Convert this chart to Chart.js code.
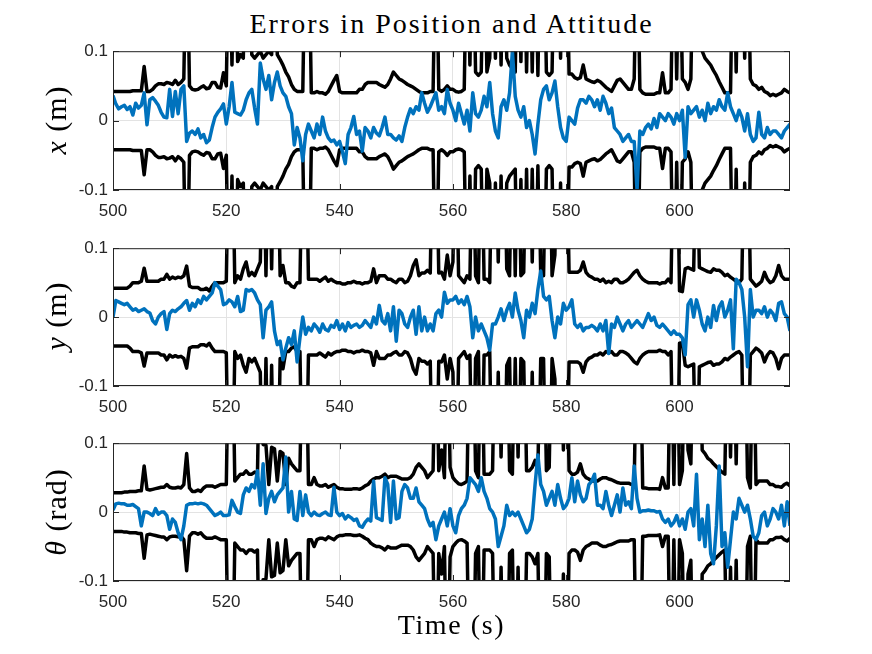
<!DOCTYPE html>
<html>
<head>
<meta charset="utf-8">
<title>Errors in Position and Attitude</title>
<script src="https://cdn.jsdelivr.net/npm/chart.js@4.4.1/dist/chart.umd.min.js"></script>
<style>
  html, body { margin: 0; padding: 0; background: #fff; }
  #fig { position: relative; width: 872px; height: 654px; overflow: hidden; background: #fff; }
  #fig canvas { position: absolute; left: 0; }
  .title, .xlabel {
    position: absolute; left: 113px; width: 677px; text-align: center;
    font-family: "Liberation Serif", serif; color: #000; white-space: nowrap; line-height: 1;
  }
  .title { top: 10px; font-size: 28px; letter-spacing: 2px; }
  .xlabel { top: 611px; font-size: 28px; letter-spacing: 1.6px; }
  .ylabel {
    position: absolute; left: -44px; width: 200px; height: 40px; line-height: 40px; text-align: center;
    font-family: "Liberation Serif", serif; font-size: 30px; letter-spacing: 1px; color: #000;
    white-space: nowrap; transform: rotate(-90deg);
  }
</style>
</head>
<body>
<div id="fig">
  <div class="title">Errors in Position and Attitude</div>
  <canvas id="px" width="802" height="189" style="top:36px"></canvas>
  <canvas id="py" width="802" height="188" style="top:233px"></canvas>
  <canvas id="pt" width="802" height="188" style="top:428px"></canvas>
  <div class="ylabel" style="top:100px"><i>x</i> (m)</div>
  <div class="ylabel" style="top:296px"><i>y</i> (m)</div>
  <div class="ylabel" style="top:492px"><i>θ</i> (rad)</div>
  <div class="xlabel">Time (s)</div>
</div>
<script>
// samples every 0.5 s, 500 .. 619.5 s
const T_START = 500;
const T_STEP = 0.5;

// 3-sigma bound and estimation error, x (m)
const sigmaX = [
  .042,.042,.042,.042,.042,.042,.042,.043,.043,.043,
  .043,.078,.042,.042,.045,.050,.053,.053,.052,.055,
  .054,.052,.058,.052,.055,.060,.3,.050,.045,.044,
  .045,.048,.050,.046,.047,.055,.055,.048,.047,.069,
  .050,.3,.080,.3,.085,.095,.090,.3,.3,.095,
  .090,.095,.100,.090,.095,.100,.095,.3,.095,.088,
  .080,.070,.063,.052,.045,.042,.042,.042,.3,.3,
  .040,.040,.042,.040,.040,.038,.042,.050,.058,.065,
  .042,.040,.040,.040,.040,.040,.040,.045,.045,.052,
  .055,.055,.055,.055,.052,.050,.048,.052,.060,.070,
  .065,.060,.058,.055,.052,.050,.048,.045,.042,.040,
  .040,.040,.042,.042,.3,.045,.042,.045,.050,.045,
  .045,.042,.041,.042,.045,.3,.080,.3,.070,.065,
  .070,.3,.070,.090,.3,.090,.3,.080,.3,.090,
  .080,.075,.070,.3,.085,.3,.070,.3,.070,.3,
  .065,.3,.3,.070,.065,.070,.3,.3,.090,.3,
  .3,.067,.067,.062,.060,.062,.080,.060,.058,.056,
  .055,.058,.056,.052,.048,.045,.042,.050,.058,.060,
  .055,.050,.045,.045,.060,.3,.045,.040,.038,.038,
  .038,.038,.040,.040,.069,.040,.040,.045,.3,.060,
  .3,.060,.055,.045,.060,.3,.3,.3,.100,.090,
  .085,.080,.072,.065,.056,.048,.040,.040,.040,.3,
  .070,.3,.3,.090,.3,.060,.052,.050,.045,.048,
  .042,.040,.036,.038,.036,.038,.040,.045,.042,.040
];
const errX = [
  .036,.024,.017,.020,.022,.016,.020,.008,.025,.018,
  .022,.040,-.006,.030,.033,.028,.022,.012,.005,.004,
  .045,.006,.042,.010,.045,.050,-.030,-.018,-.015,-.020,
  -.012,-.025,-.020,-.032,-.028,-.010,.005,.012,.017,.024,
  -.005,.020,.055,.012,.010,.008,.015,.030,.040,.045,
  .018,-.005,.083,.060,.045,.065,.030,.055,.070,.050,
  .040,.035,.020,.010,-.035,-.010,-.025,-.058,-.020,-.005,
  -.015,-.025,-.005,-.020,.005,-.015,-.025,-.030,-.028,-.035,
  -.030,-.045,-.062,-.020,-.010,.006,-.020,-.015,-.044,-.010,
  -.015,-.025,-.010,-.018,-.022,-.010,.005,-.020,-.020,-.025,
  -.028,-.022,-.030,-.010,.005,.017,.010,.020,.015,.040,
  .025,.012,.020,.030,.040,.015,.020,.010,.045,.025,
  .015,.000,.025,.010,-.005,.015,-.015,.040,.010,.005,
  .015,.035,.020,.055,.010,-.015,-.025,.020,.030,.015,
  .040,.100,.035,.015,.005,.020,-.010,.000,-.020,-.048,
  -.005,.030,.045,.050,.030,.040,.057,.020,-.010,-.025,
  -.030,.005,.000,-.005,.018,.030,.030,.025,.035,.030,
  .020,.030,.015,.035,.025,.010,.018,-.010,-.015,-.020,
  -.030,-.025,-.020,-.030,-.030,-.100,-.015,-.020,-.010,-.005,
  -.012,.003,-.010,.010,.005,.000,.010,.005,-.005,.010,
  .000,.015,-.053,.020,.010,.015,.020,.005,.015,.000,
  .025,.010,.020,.015,.030,.020,.015,.040,.020,.010,
  .000,.015,.005,-.015,.010,-.020,-.030,-.025,.012,-.020,
  -.025,-.010,-.020,-.015,-.015,-.020,-.025,-.015,-.010,-.005
];

// 3-sigma bound and estimation error, y (m)
const sigmaY = [
  .042,.042,.042,.042,.042,.042,.045,.050,.050,.050,
  .052,.071,.052,.052,.052,.052,.052,.055,.055,.062,
  .055,.058,.056,.058,.057,.060,.074,.045,.043,.043,
  .043,.040,.040,.042,.038,.045,.050,.050,.050,.050,
  .052,.3,.3,.050,.060,.055,.070,.080,.060,.065,
  .060,.070,.080,.3,.060,.3,.070,.3,.3,.060,
  .075,.050,.050,.045,.043,.050,.050,.3,.3,.055,
  .055,.055,.055,.052,.055,.058,.052,.055,.052,.050,
  .050,.048,.048,.050,.050,.052,.050,.050,.048,.050,
  .050,.052,.070,.050,.060,.060,.060,.055,.055,.052,
  .050,.055,.055,.050,.052,.060,.075,.083,.060,.064,
  .064,.068,.064,.3,.3,.064,.065,.055,.090,.060,
  .080,.3,.060,.055,.050,.060,.055,.3,.060,.050,
  .3,.055,.055,.050,.3,.3,.080,.3,.3,.070,
  .060,.3,.060,.3,.060,.065,.3,.3,.080,.3,
  .3,.060,.060,.3,.3,.060,.090,.3,.3,.3,
  .3,.065,.065,.065,.065,.068,.080,.065,.060,.058,
  .055,.055,.052,.055,.050,.052,.050,.055,.055,.050,
  .050,.052,.055,.060,.065,.068,.060,.055,.052,.050,
  .050,.050,.050,.048,.050,.050,.055,.050,.3,.3,
  .038,.037,.070,.072,.070,.068,.3,.072,.070,.068,
  .066,.065,.070,.068,.068,.065,.060,.062,.058,.055,
  .052,.050,.055,.3,.3,.055,.050,.045,.048,.052,
  .065,.055,.050,.052,.060,.075,.060,.055,.055,.055
];
const errY = [
  .000,.024,.022,.020,.018,.020,.015,.010,.012,.008,
  .010,.012,.008,.006,-.005,-.010,.000,.005,.008,-.018,
  .005,.010,.008,.012,.015,.020,.024,.010,.020,.015,
  .025,.020,.030,.025,.030,.035,.050,.045,.040,.018,
  .020,.025,.022,.015,.030,.008,.010,.040,.038,.040,
  .035,.025,.018,-.030,.010,.015,.022,-.020,-.040,-.035,
  -.062,-.045,-.030,-.040,-.020,-.065,-.030,.000,-.025,-.015,
  -.020,-.010,-.015,-.022,-.010,-.018,-.020,-.012,-.015,-.005,
  -.018,-.010,-.020,-.008,-.015,-.012,-.010,-.015,-.012,-.005,
  -.010,-.015,.000,-.010,.017,-.005,-.010,.005,-.020,.015,
  -.035,.010,.005,-.010,-.015,.000,.010,-.025,.015,-.020,
  .000,-.020,-.010,-.020,.005,.010,.000,.036,.020,.025,
  .025,.030,.020,.025,.018,.030,.015,-.030,.000,-.020,
  -.010,-.020,-.030,-.048,-.010,-.010,.000,.012,-.005,.010,
  .020,.000,.035,.010,-.005,-.030,.010,.000,.020,.005,
  .040,.067,.030,.025,.030,-.005,-.030,.000,-.010,.020,
  .010,.015,.025,-.010,-.015,-.010,-.020,-.015,-.015,-.012,
  -.015,-.020,-.010,-.020,-.005,-.053,-.010,-.015,.000,-.010,
  -.020,-.010,-.005,-.015,-.010,-.005,-.010,-.015,-.005,.005,
  -.005,.000,-.012,-.015,-.010,-.015,-.020,-.025,-.020,-.025,
  -.025,-.030,-.055,.018,.025,.000,.025,.010,-.010,-.020,
  .000,-.015,.017,-.005,.015,.022,.000,.010,.025,-.046,
  .055,.050,.040,.000,-.072,.040,.000,.010,.010,.005,
  .015,.000,.010,.005,-.005,.020,.022,.005,.000,-.020
];

// 3-sigma bound and estimation error, theta (rad)
const sigmaT = [
  .028,.028,.028,.028,.029,.029,.030,.030,.030,.031,
  .031,.067,.033,.032,.033,.034,.035,.036,.036,.040,
  .036,.035,.035,.036,.035,.040,.085,.035,.030,.030,
  .032,.030,.035,.038,.038,.038,.036,.038,.040,.040,
  .040,.3,.3,.045,.050,.055,.055,.060,.055,.055,
  .058,.055,.3,.098,.097,.040,.094,.092,.045,.088,
  .085,.040,.078,.070,.065,.060,.060,.3,.3,.040,
  .040,.050,.040,.038,.038,.040,.036,.038,.040,.036,
  .034,.034,.033,.033,.033,.034,.034,.033,.035,.038,
  .040,.045,.048,.050,.050,.052,.055,.050,.052,.052,
  .052,.050,.048,.048,.048,.050,.055,.065,.070,.065,
  .060,.050,.055,.060,.3,.060,.090,.050,.3,.065,
  .050,.045,.041,.040,.042,.045,.3,.3,.060,.050,
  .3,.055,.055,.055,.060,.3,.3,.080,.3,.3,
  .060,.055,.3,.080,.3,.3,.060,.060,.065,.075,
  .060,.3,.3,.060,.065,.3,.3,.3,.3,.090,
  .3,.060,.055,.055,.058,.070,.055,.050,.048,.045,
  .045,.045,.048,.050,.050,.048,.047,.045,.043,.042,
  .042,.042,.042,.040,.040,.3,.3,.035,.035,.034,
  .034,.034,.034,.033,.050,.035,.035,.3,.040,.3,
  .040,.060,.3,.090,.070,.3,.3,.3,.090,.085,
  .078,.075,.070,.066,.062,.058,.055,.3,.080,.3,
  .070,.3,.3,.3,.050,.035,.3,.040,.045,.045,
  .045,.045,.040,.040,.037,.037,.036,.040,.042,.038
];
const errT = [
  .003,.012,.013,.012,.012,.010,.010,.011,.008,.005,
  -.020,.000,.000,-.002,-.005,.005,-.003,.000,.000,-.005,
  -.025,-.010,-.015,-.030,-.040,-.020,.010,.012,.012,.013,
  .012,.013,.012,.010,.005,.000,-.005,-.003,.000,-.005,
  -.005,-.004,.017,.008,.000,-.002,.025,.035,.030,.040,
  .035,.060,.010,.070,-.002,.020,.030,.015,.025,.030,
  .035,.080,.000,.030,-.010,-.012,.030,-.005,.025,.000,
  -.005,.000,-.004,-.005,-.002,.000,-.004,-.005,.036,.000,
  -.005,-.002,-.010,-.005,-.008,-.012,-.010,-.020,-.022,-.015,
  -.010,-.013,.045,-.008,-.010,-.012,.050,.040,-.015,.045,
  -.010,-.008,.030,.040,.035,.020,.020,.035,.015,.010,
  .005,-.010,-.020,-.015,-.040,-.020,-.010,.000,-.020,.005,
  -.020,-.030,-.005,.005,.010,.020,.050,.045,.040,.030,
  .050,.030,.020,.005,.000,-.010,-.050,-.035,-.020,.010,
  -.005,.000,-.005,.000,-.010,-.020,-.030,-.025,-.010,.040,
  .083,.040,.030,.010,.020,.030,.010,.040,.020,.005,
  .010,.020,.050,.015,.045,.025,.015,.020,.040,.045,
  .055,.010,.010,.005,.030,.010,-.005,.010,.025,.000,
  .035,.010,.015,.005,.067,.020,.000,.002,.002,.003,
  .002,.002,.000,.001,-.010,-.015,-.010,-.020,-.015,-.005,
  -.020,-.010,-.025,.000,.005,-.020,.055,-.040,-.010,-.050,
  .010,-.060,-.075,-.020,.067,-.050,-.030,-.080,-.040,.000,
  -.010,.020,.010,.000,.010,-.010,-.035,-.040,-.030,-.005,
  .000,-.020,-.010,.005,.000,-.010,.010,-.020,.015,-.020
];

const xTicks = [500, 520, 540, 560, 580, 600];
const yTicks = [-0.1, 0, 0.1];

const time = sigmaX.map((_, i) => T_START + i * T_STEP);

const BLUE = '#0072BD';
const AXIS = '#262626';
const GRID = '#e3e3e3';
const TICK_FONT = { family: '"Liberation Sans", Arial, sans-serif', size: 17 };

// MATLAB-like box with inward tick marks
const axesBox = {
  id: 'axesBox',
  afterDraw(chart) {
    const { ctx, chartArea: a, scales } = chart;
    ctx.save();
    ctx.strokeStyle = AXIS;
    ctx.lineWidth = 1;
    ctx.beginPath();
    xTicks.forEach((v) => {
      const px = Math.round(scales.x.getPixelForValue(v)) + 0.5;
      ctx.moveTo(px, a.bottom); ctx.lineTo(px, a.bottom - 6);
      ctx.moveTo(px, a.top); ctx.lineTo(px, a.top + 6);
    });
    yTicks.forEach((v) => {
      const py = Math.round(scales.y.getPixelForValue(v)) + 0.5;
      ctx.moveTo(a.left, py); ctx.lineTo(a.left + 6, py);
      ctx.moveTo(a.right, py); ctx.lineTo(a.right - 6, py);
    });
    ctx.stroke();
    ctx.strokeRect(a.left + 0.5, a.top + 0.5, a.right - a.left - 1, a.bottom - a.top - 1);
    ctx.restore();
  }
};

function toPoints(values) {
  return values.map((v, i) => ({ x: time[i], y: v }));
}

function makePanel(canvasId, err, sigma) {
  return new Chart(document.getElementById(canvasId), {
    type: 'line',
    data: {
      datasets: [
        { data: toPoints(err), borderColor: BLUE },
        { data: toPoints(sigma), borderColor: '#000' },
        { data: toPoints(sigma.map((v) => -v)), borderColor: '#000' }
      ]
    },
    options: {
      responsive: false,
      animation: false,
      events: [],
      layout: { padding: { top: 12, right: 12, left: 0, bottom: 0 } },
      plugins: { legend: { display: false }, tooltip: { enabled: false } },
      elements: {
        point: { radius: 0 },
        line: { tension: 0, borderWidth: 3.5, borderJoinStyle: 'round', fill: false }
      },
      datasets: { line: { clip: 0 } },
      scales: {
        x: {
          type: 'linear',
          min: 500,
          max: 619.5,
          afterFit: (s) => { s.height = 35; },
          afterBuildTicks: (s) => { s.ticks = xTicks.map((v) => ({ value: v })); },
          ticks: {
            color: AXIS, font: TICK_FONT, padding: 11, maxRotation: 0, autoSkip: false,
            callback: (v) => String(v)
          },
          grid: { color: GRID, drawTicks: false },
          border: { display: false }
        },
        y: {
          min: -0.1,
          max: 0.1,
          afterFit: (s) => { s.width = 113; },
          afterBuildTicks: (s) => { s.ticks = yTicks.map((v) => ({ value: v })); },
          ticks: {
            color: AXIS, font: TICK_FONT, padding: 5,
            callback: (v) => (Math.abs(v) < 1e-9 ? '0' : v.toFixed(1))
          },
          grid: { color: GRID, drawTicks: false },
          border: { display: false }
        }
      }
    },
    plugins: [axesBox]
  });
}

makePanel('px', errX, sigmaX);
makePanel('py', errY, sigmaY);
makePanel('pt', errT, sigmaT);
</script>
</body>
</html>
